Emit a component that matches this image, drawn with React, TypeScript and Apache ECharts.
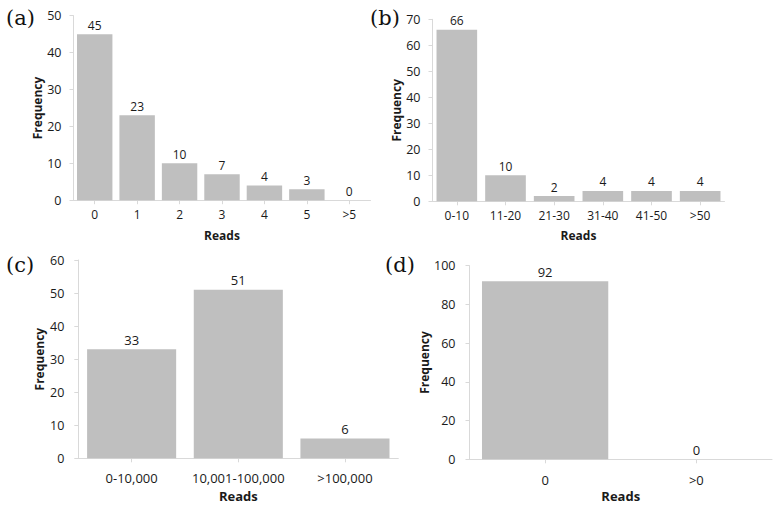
import React, { useEffect, useRef } from "react";
import * as echarts from "echarts";

const catsA = ["0", "1", "2", "3", "4", "5", ">5"];
const valsA = [45, 23, 10, 7, 4, 3, 0];
const catsB = ["0-10", "11-20", "21-30", "31-40", "41-50", ">50"];
const valsB = [66, 10, 2, 4, 4, 4];
const catsC = ["0-10,000", "10,001-100,000", ">100,000"];
const valsC = [33, 51, 6];
const catsD = ["0", ">0"];
const valsD = [92, 0];
const yMaxes = [50, 70, 60, 100];
const yIntervals = [10, 10, 10, 20];
const panelLabels = ["(a)", "(b)", "(c)", "(d)"];
const xName = "Reads";
const yName = "Frequency";

const FONT = "'Open Sans', sans-serif";
const TEXT = "#1a1a1a";
const AXIS = "#d9d9d9";
const BAR = "#bfbfbf";

export default function App() {
  const ref = useRef<HTMLDivElement>(null);
  useEffect(() => {
    if (!ref.current) return;
    const chart = echarts.init(ref.current, undefined, { renderer: "svg" });
    const cats = [catsA, catsB, catsC, catsD];
    const vals = [valsA, valsB, valsC, valsD];
    const grids = [
      { left: 73.5, top: 15.7, width: 297, height: 184.5 },
      { left: 432.5, top: 19.3, width: 292, height: 182 },
      { left: 78.3, top: 260, width: 320, height: 198.3 },
      { left: 469.5, top: 265.7, width: 302.5, height: 193.6 },
    ];
    const fs = [12, 12, 13, 13];
    const xLabelMargin = [8, 8, 13, 14];
    const xNameGap = [29, 28, 31, 30];
    const yNameGap = [29, 29, 33, 39];
    const yLabelMargin = [12, 12, 14, 14];
    const labelPos = [
      { x: 6, y: 18 },
      { x: 370, y: 18 },
      { x: 6, y: 265 },
      { x: 385, y: 265 },
    ];
    const option: any = {
      animation: false,
      backgroundColor: "#ffffff",
      grid: grids.map((g) => ({ ...g, containLabel: false })),
      xAxis: cats.map((c, i) => ({
        type: "category",
        gridIndex: i,
        data: c,
        name: xName,
        nameLocation: "middle",
        nameGap: xNameGap[i],
        nameTextStyle: { fontFamily: FONT, fontWeight: "bold", fontSize: fs[i], color: TEXT },
        axisLine: { show: true, lineStyle: { color: AXIS, width: 1 } },
        axisTick: { show: true, alignWithLabel: true, length: 4, lineStyle: { color: AXIS } },
        axisLabel: { fontFamily: FONT, fontSize: fs[i], color: TEXT, margin: xLabelMargin[i], interval: 0 },
        splitLine: { show: false },
      })),
      yAxis: yMaxes.map((m, i) => ({
        type: "value",
        gridIndex: i,
        min: 0,
        max: m,
        interval: yIntervals[i],
        name: yName,
        nameLocation: "middle",
        nameGap: yNameGap[i],
        nameTextStyle: { fontFamily: FONT, fontWeight: "bold", fontSize: 12, color: TEXT },
        axisLine: { show: true, lineStyle: { color: AXIS, width: 1 } },
        axisTick: { show: true, length: 4, lineStyle: { color: AXIS } },
        axisLabel: { fontFamily: FONT, fontSize: 12.5, color: TEXT, margin: yLabelMargin[i] },
        splitLine: { show: false },
      })),
      series: vals.map((v, i) => ({
        type: "bar",
        xAxisIndex: i,
        yAxisIndex: i,
        data: v,
        barCategoryGap: "16.5%",
        itemStyle: { color: BAR },
        label: {
          show: true,
          position: "top",
          distance: 3,
          fontFamily: FONT,
          fontSize: fs[i],
          color: TEXT,
        },
      })),
      graphic: panelLabels.map((t, i) => ({
        type: "text",
        x: labelPos[i].x,
        y: labelPos[i].y,
        style: {
          text: t,
          fontFamily: "'DejaVu Serif', serif",
          fontSize: 21,
          fill: "#111",
          textVerticalAlign: "middle",
          verticalAlign: "middle",
        },
      })),
    };
    chart.setOption(option);
    return () => chart.dispose();
  }, []);
  return (
    <div
      ref={ref}
      style={{ position: "fixed", left: 0, top: 0, width: 782, height: 513, background: "#fff" }}
    />
  );
}
